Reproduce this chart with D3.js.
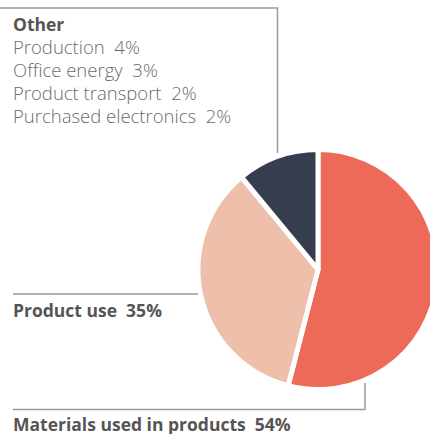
<!DOCTYPE html>
<html>
<head>
<meta charset="utf-8">
<script src="https://cdn.jsdelivr.net/npm/d3@7"></script>
<style>
  body { margin: 0; background: #fff; }
  text { font-family: "Open Sans", sans-serif; }
</style>
</head>
<body>
<svg id="mainFrame"></svg>
<script>
// slices, clockwise from 12 o'clock
const categories = ['Materials used in products', 'Product use', 'Other']
const shares = [54, 35, 11]
const colorList = ['#ee6a58', '#eebfab', '#353d4f']

// breakdown of "Other"
const otherItems = ['Production', 'Office energy', 'Product transport', 'Purchased electronics']
const otherShares = [4, 3, 2, 2]

const width = 430
const height = 434

const svg = d3.select('#mainFrame')
    .attr('width', width)
    .attr('height', height)

const radius = 120
const cx = 318
const cy = 269.5

const pieGroup = svg.append('g')
    .attr('transform', `translate(${cx},${cy})`)

const data = categories.map((c, i) => ({ name: c, value: shares[i], color: colorList[i] }))

const pie = d3.pie()
    .value(d => d.value)
    .sort(null)
    (data)

const arc = d3.arc()
    .innerRadius(0)
    .outerRadius(radius)

pieGroup.selectAll('path')
    .data(pie)
    .join('path')
    .attr('d', arc)
    .attr('fill', d => d.data.color)
    .attr('stroke', '#fff')
    .attr('stroke-width', 5)
    .attr('stroke-linejoin', 'round')

// leader lines
const lineColor = '#9a9a9a'
const leaders = [
    [[0, 8], [277.5, 8], [277.5, 153]],
    [[13, 294], [198, 294]],
    [[13, 409.5], [365, 409.5], [365, 383]]
]
svg.selectAll('path.leader')
    .data(leaders)
    .join('path')
    .attr('class', 'leader')
    .attr('d', d3.line())
    .attr('fill', 'none')
    .attr('stroke', lineColor)
    .attr('stroke-width', 1.5)

// labels
const bold = (x, y, t) => svg.append('text')
    .attr('x', x).attr('y', y)
    .attr('font-size', 17.5)
    .attr('font-weight', 700)
    .attr('fill', '#555')
    .attr('xml:space', 'preserve')
    .text(t)

bold(13, 31, categories[2])
bold(13, 317, `${categories[1]}  ${shares[1]}%`)
bold(13, 431, `${categories[0]}  ${shares[0]}%`)

svg.selectAll('text.other')
    .data(otherItems)
    .join('text')
    .attr('class', 'other')
    .attr('x', 13)
    .attr('y', (d, i) => 54 + i * 23)
    .attr('font-size', 18.5)
    .attr('font-weight', 300)
    .attr('fill', '#6b6b6b')
    .attr('xml:space', 'preserve')
    .text((d, i) => `${d}  ${otherShares[i]}%`)
</script>
</body>
</html>
